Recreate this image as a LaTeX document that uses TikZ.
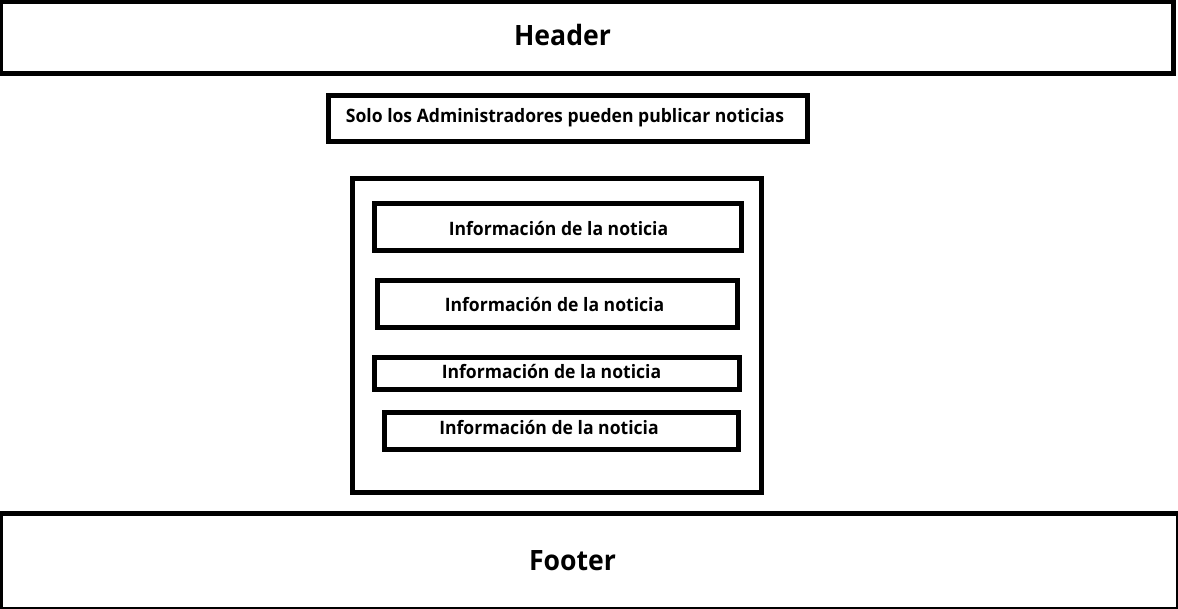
\documentclass[tikz,border=0pt]{standalone}
\usepackage{fontspec}
\setmainfont{Open Sans}
\newfontfamily\labelfont[FakeStretch=0.95]{Open Sans}
\tikzset{
  frame/.style={draw=black, line width=5pt, rectangle, inner sep=0pt, fill=none},
  lbl/.style={anchor=base, inner sep=0pt},
  big/.style={lbl, font=\labelfont\bfseries\fontsize{28}{30}\selectfont},
  small/.style={lbl, font=\labelfont\bfseries\fontsize{18.5}{20}\selectfont},
}
\begin{document}
\begin{tikzpicture}[x=1pt,y=-1pt]
\useasboundingbox (0,0) rectangle (1178,608);
\fill[white] (0,0) rectangle (1178,608);
% header
\node[frame, minimum width=1173pt, minimum height=72pt] (header) at (587,37.5) {};
\node[big] (headerT) at (562.5,45) {Header};
% admin note
\node[frame, minimum width=479pt, minimum height=46pt] (admin) at (568,118.5) {};
\node[small] (adminT) at (565,122) {Solo los Administradores pueden publicar noticias};
% container
\node[frame, minimum width=409pt, minimum height=313.5pt] (list) at (557,335.25) {};
\node[frame, minimum width=367pt, minimum height=47pt] (n1) at (558,227) {};
\node[small] (n1T) at (558.5,235) {Información de la noticia};
\node[frame, minimum width=360pt, minimum height=47pt] (n2) at (557.5,304) {};
\node[small] (n2T) at (554.5,311) {Información de la noticia};
\node[frame, minimum width=365pt, minimum height=32pt] (n3) at (557,373.5) {};
\node[small] (n3T) at (551.5,378.3) {Información de la noticia};
\node[frame, minimum width=354pt, minimum height=37pt] (n4) at (561.5,431) {};
\node[small] (n4T) at (549,434.3) {Información de la noticia};
% footer
\node[frame, minimum width=1178pt, minimum height=96pt] (footer) at (589.5,561.5) {};
\node[big] (footerT) at (572.5,570) {Footer};
\end{tikzpicture}
\end{document}
